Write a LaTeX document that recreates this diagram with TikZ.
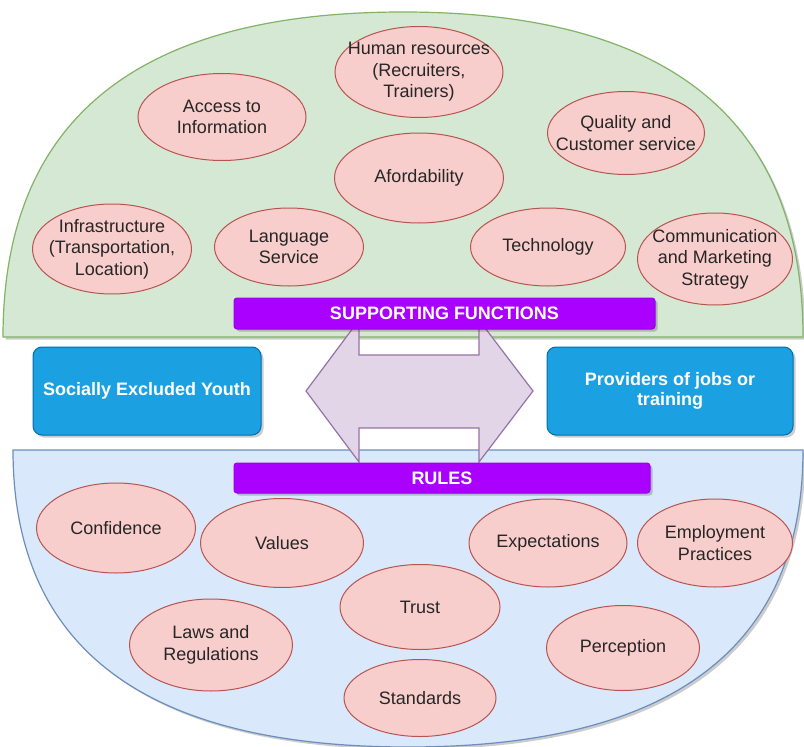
\documentclass[tikz,border=0pt]{standalone}
\usepackage{fontspec}
\setmainfont{Liberation Sans}
\usetikzlibrary{shapes.geometric,shadows}
\definecolor{domeG}{HTML}{D5E8D4}
\definecolor{domeGs}{HTML}{82B366}
\definecolor{domeB}{HTML}{DAE8FC}
\definecolor{domeBs}{HTML}{6C8EBF}
\definecolor{ellF}{HTML}{F8CECC}
\definecolor{ellS}{HTML}{B85450}
\definecolor{barF}{HTML}{AA00FF}
\definecolor{barS}{HTML}{9A00E6}
\definecolor{boxF}{HTML}{1BA1E2}
\definecolor{boxS}{HTML}{006EAF}
\definecolor{arrF}{HTML}{E1D5E7}
\definecolor{arrS}{HTML}{9673A6}
\tikzset{
  myshadow/.style={drop shadow={shadow xshift=2.5pt, shadow yshift=-2.5pt, opacity=0.2, fill=black}},
  bubble/.style={ellipse, draw=ellS, fill=ellF, line width=1pt, inner sep=0pt},
  btext/.style={align=center, inner sep=0pt, font=\fontsize{18}{21.6}\selectfont, text=black!85},
  bar/.style={rectangle, rounded corners=3pt, draw=barS, fill=barF, line width=1pt, text=white,
    font=\bfseries\fontsize{18}{21.6}\selectfont, inner sep=0pt, myshadow},
  actor/.style={rectangle, rounded corners=9pt, draw=boxS, fill=boxF, line width=1pt, text=white,
    font=\bfseries\fontsize{18}{20.5}\selectfont, align=center, inner sep=0pt, myshadow},
}
\begin{document}
\begin{tikzpicture}[x=1pt,y=-1pt]
\useasboundingbox (0,0) rectangle (804,747);
\fill[white] (0,0) rectangle (804,747);
% domes
\path[fill=domeG, draw=domeGs, line width=1.2pt, myshadow] (3,337)
  .. controls (3,120.3) and (136.3,12) .. (403,12)
  .. controls (669.7,12) and (803,120.3) .. (803,337) -- cycle;
\path[fill=domeB, draw=domeBs, line width=1.2pt, myshadow] (13,450)
  .. controls (13,648) and (144.7,747) .. (408,747)
  .. controls (671.3,747) and (803,648) .. (803,450) -- cycle;
% double arrow
\path[fill=arrF, draw=arrS, line width=1.2pt] (306,391) -- (359,320) -- (359,355) -- (479,355) -- (479,320) -- (533,391) -- (479,462) -- (479,428) -- (359,428) -- (359,462) -- cycle;
% bars
\node[bar, minimum width=421, minimum height=31] (sf) at (444.5,313.5) {SUPPORTING FUNCTIONS};
\node[bar, minimum width=416, minimum height=30] (rules) at (442,478) {RULES};
% actors
\node[actor, minimum width=228, minimum height=88] (youth) at (147,391) {Socially Excluded Youth};
\node[actor, minimum width=246, minimum height=88] (prov) at (670,391) {Providers of jobs or\\training};
% top bubbles
\node[bubble, minimum width=168, minimum height=91, label={[btext]center:{Human resources\\(Recruiters,\\Trainers)}}] (hr) at (419,72) {};
\node[bubble, minimum width=168, minimum height=87, label={[btext]center:{Access to\\Information}}] (acc) at (222,117) {};
\node[bubble, minimum width=157, minimum height=83, label={[btext]center:{Quality and\\Customer service}}] (qual) at (626,133) {};
\node[bubble, minimum width=169, minimum height=90, label={[btext]center:{Afordability}}] (afd) at (419,178) {};
\node[bubble, minimum width=159, minimum height=90, label={[btext]center:{Infrastructure\\(Transportation,\\Location)}}] (inf) at (112,249) {};
\node[bubble, minimum width=149, minimum height=78, label={[btext]center:{Language\\Service}}] (lang) at (289,247) {};
\node[bubble, minimum width=155, minimum height=78, label={[btext]center:{Technology}}] (tech) at (548,247) {};
\node[bubble, minimum width=155, minimum height=92, label={[btext]center:{Communication\\and Marketing\\Strategy}}] (comm) at (715,259) {};
% bottom bubbles
\node[bubble, minimum width=159, minimum height=90, label={[btext]center:{Confidence}}] (conf) at (116,528) {};
\node[bubble, minimum width=163, minimum height=89, label={[btext]center:{Values}}] (val) at (282,543) {};
\node[bubble, minimum width=158, minimum height=88, label={[btext]center:{Expectations}}] (exp) at (548,543) {};
\node[bubble, minimum width=155, minimum height=88, label={[btext]center:{Employment\\Practices}}] (emp) at (715,543) {};
\node[bubble, minimum width=160, minimum height=85, label={[btext]center:{Trust}}] (trust) at (420,607) {};
\node[bubble, minimum width=163, minimum height=92, label={[btext]center:{Laws and\\Regulations}}] (laws) at (211,645) {};
\node[bubble, minimum width=153, minimum height=85, label={[btext]center:{Perception}}] (perc) at (623,648) {};
\node[bubble, minimum width=152, minimum height=77, label={[btext]center:{Standards}}] (std) at (420,698) {};
\end{tikzpicture}
\end{document}
